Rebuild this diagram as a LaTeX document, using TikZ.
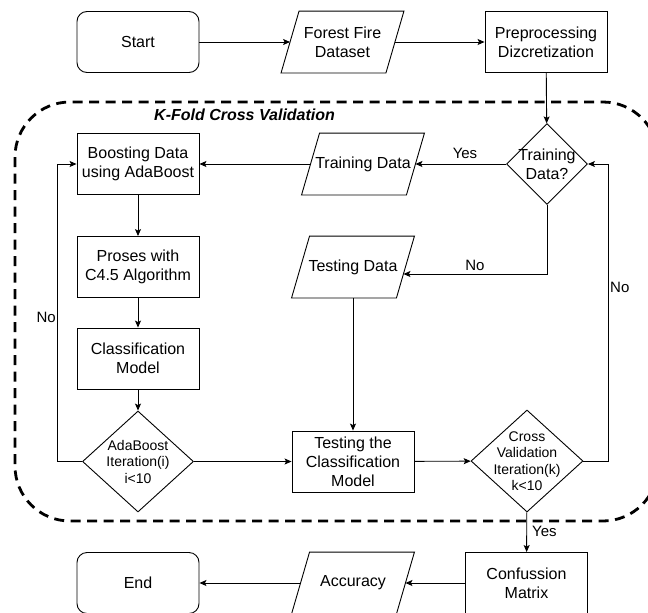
\documentclass[tikz,border=0pt]{standalone}
\usepackage{fontspec}
\setmainfont{Liberation Sans}
\usetikzlibrary{shapes.geometric,arrows.meta,calc}
\begin{document}
\begin{tikzpicture}[x=1pt,y=-1pt,
  box/.style={draw, minimum width=122pt, minimum height=61pt, inner sep=0pt, align=center, font=\fontsize{16}{19}\selectfont, line width=0.9pt},
  term/.style={box, rounded corners=10pt},
  iobox/.style={box, draw=none},
  dec/.style={draw, diamond, inner sep=0pt, line width=0.9pt},
  dectext/.style={align=center, font=\fontsize{14}{16.5}\selectfont},
  lbl/.style={font=\fontsize{15}{17}\selectfont, inner sep=1pt},
  arr/.style={-{Stealth[length=7pt,width=6pt,inset=1.5pt]}, line width=0.9pt},
  kfoldline/.style={line width=2.8pt, dash pattern=on 10pt off 6.5pt, rounded corners=55pt},
]
\useasboundingbox (0,0) rectangle (648,613);
\clip (0,0) rectangle (648,613);
\draw[kfoldline] (15,102) rectangle (658,521);
\node[anchor=west, inner sep=0pt, font=\fontsize{16}{19}\selectfont\bfseries\itshape] (kfold) at (154,115) {K-Fold Cross Validation};

% nodes
\node[term] (start) at (138,42) {Start};
\node[iobox] (forest) at (342.5,42) {Forest Fire\\Dataset};
\node[box] (prep) at (546,42) {Preprocessing\\Dizcretization};

\node[box] (boost) at (138,164) {Boosting Data\\using AdaBoost};
\node[iobox] (train) at (363,164) {Training Data};
\node[dec, minimum width=81pt, minimum height=81pt,
      label={[dectext, font=\fontsize{16}{19}\selectfont]center:Training\\Data?}] (dec1) at (547,164) {};

\node[box] (proses) at (138,267) {Proses with\\C4.5 Algorithm};
\node[iobox] (test) at (353,267) {Testing Data};

\node[box] (cls) at (138,358.5) {Classification\\Model};

\node[dec, minimum width=111pt, minimum height=101pt,
      label={[dectext]center:AdaBoost\\Iteration(i)\\i<10}] (ada) at (138,461.5) {};
\node[box] (testcls) at (353,461.5) {Testing the\\Classification\\Model};
\node[dec, minimum width=112pt, minimum height=102pt,
      label={[dectext]center:Cross\\Validation\\Iteration(k)\\k<10}] (cv) at (527,461) {};

\node[box] (conf) at (526.5,583) {Confussion\\Matrix};
\node[iobox] (acc) at (353,583) {Accuracy};
\node[term] (end) at (138,583) {End};

% parallelograms
\foreach \n in {forest,train,test,acc}
  \draw[line width=0.9pt] ([xshift=18pt]\n.north west) -- (\n.north east) -- ([xshift=-18pt]\n.south east) -- (\n.south west) -- cycle;

% helper coordinates
\coordinate (lft) at (57,300);
\coordinate (rgt) at (608,300);

% connectors
\draw[arr] (start) -- ([xshift=9pt]forest.west);
\draw[arr] ([xshift=-9pt]forest.east) -- (prep);
\draw[arr] (prep) -- (dec1);
\draw[arr] (dec1) -- ([xshift=-9pt]train.east);
\draw[arr] ([xshift=9pt]train.west) -- (boost);
\draw[arr] (boost) -- (proses);
\draw[arr] (proses) -- (cls);
\draw[arr] (cls) -- (ada);
\draw[arr] (dec1.south) |- ([xshift=-11pt,yshift=-7pt]test.east);
\draw[arr] (test) -- (testcls);
\draw[arr] (ada) -- (testcls);
\draw[arr] (ada.west) -- (ada.west -| lft) |- (boost.west);
\draw[arr] (testcls) -- (cv);
\draw[arr] (cv.east) -- (cv.east -| rgt) |- (dec1.east);
\draw[arr] (cv) -- (conf);
\draw[arr] (conf) -- ([xshift=-9pt]acc.east);
\draw[arr] ([xshift=9pt]acc.west) -- (end);

% labels
\node[lbl] (yes1) at (465,153) {Yes};
\node[lbl] (no1) at (475,265) {No};
\node[lbl, anchor=west] (no2) at (609,287) {No};
\node[lbl, anchor=east] (no3) at (57,317) {No};
\node[lbl, anchor=west] (yes2) at (531,531) {Yes};
\end{tikzpicture}
\end{document}
